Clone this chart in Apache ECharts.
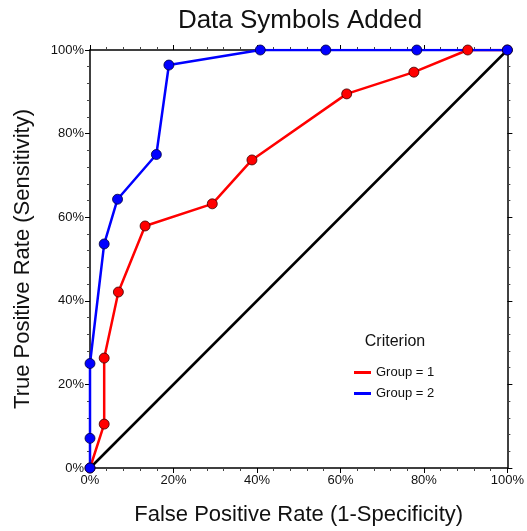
<!DOCTYPE html>
<html>
<head>
<meta charset="utf-8">
<script src="https://cdn.jsdelivr.net/npm/echarts@6/dist/echarts.min.js"></script>
<style>
html,body{margin:0;padding:0;background:#fff;}
#chart{width:527px;height:531px;}
</style>
</head>
<body>
<div id="chart"></div>
<script>
// Group = 1 (red) ROC points: false positive rate, true positive rate
var group1FPR = [0, 0.034, 0.034, 0.068, 0.132, 0.293, 0.388, 0.615, 0.776, 0.905, 1];
var group1TPR = [0, 0.105, 0.263, 0.421, 0.579, 0.632, 0.737, 0.895, 0.947, 1, 1];
// Group = 2 (blue)
var group2FPR = [0, 0, 0, 0.034, 0.066, 0.159, 0.189, 0.408, 0.565, 0.783, 1];
var group2TPR = [0, 0.071, 0.25, 0.536, 0.643, 0.75, 0.964, 1, 1, 1, 1];
// reference diagonal
var diagX = [0, 1];
var diagY = [0, 1];
var tickValues = [0, 0.2, 0.4, 0.6, 0.8, 1];
var tickLabels = ['0%', '20%', '40%', '60%', '80%', '100%'];
var seriesNames = ['Group = 1', 'Group = 2'];

function pairs(xs, ys) { return xs.map(function (x, i) { return [x, ys[i]]; }); }
function fmt(v) {
  for (var i = 0; i < tickValues.length; i++) if (Math.abs(tickValues[i] - v) < 1e-6) return tickLabels[i];
  return '';
}

var FONT = '"Liberation Sans", Arial, sans-serif';
var chart = echarts.init(document.getElementById('chart'));

function axisBase(show, pos) {
  return {
    type: 'value', min: 0, max: 1, interval: 0.2, position: pos,
    axisLine: { show: true, onZero: false, lineStyle: { color: '#000', width: 1.5 } },
    axisTick: { show: true, inside: false, length: 5, lineStyle: { color: '#000', width: 1 } },
    minorTick: { show: true, splitNumber: 5, length: 3, lineStyle: { color: '#444', width: 1 } },
    splitLine: { show: false },
    axisLabel: { show: show, formatter: fmt, fontSize: 13, color: '#111', fontFamily: FONT, margin: 6 }
  };
}

var xb = axisBase(true, 'bottom');
xb.name = 'False Positive Rate (1-Specificity)';
xb.nameLocation = 'middle';
xb.nameGap = 36;
xb.nameTextStyle = { fontSize: 22, color: '#111', fontFamily: FONT };
var xt = axisBase(false, 'top');
var yl = axisBase(true, 'left');
yl.name = 'True Positive Rate (Sensitivity)';
yl.nameLocation = 'middle';
yl.nameGap = 56;
yl.nameTextStyle = { fontSize: 22, color: '#111', fontFamily: FONT };
var yr = axisBase(false, 'right');

var option = {
  animation: false,
  backgroundColor: '#fff',
  grid: { left: 90, right: 18, top: 50, bottom: 62, containLabel: false },
  xAxis: [xb, xt],
  yAxis: [yl, yr],
  legend: {
    data: seriesNames,
    orient: 'vertical',
    left: 349, top: 361,
    icon: 'rect',
    itemWidth: 17, itemHeight: 3, itemGap: 8,
    textStyle: { fontSize: 13, color: '#111', fontFamily: FONT }
  },
  graphic: [
    { type: 'text', x: 300, y: 21, style: { text: 'Data Symbols Added', font: '26px ' + FONT, fill: '#111', textAlign: 'center', textVerticalAlign: 'middle' } },
    { type: 'text', x: 395, y: 342, style: { text: 'Criterion', font: '16px ' + FONT, fill: '#111', textAlign: 'center', textVerticalAlign: 'middle' } }
  ],
  series: [
    { type: 'line', name: 'diag', data: pairs(diagX, diagY), symbol: 'none', lineStyle: { color: '#000', width: 2.5 }, z: 1, silent: true },
    { type: 'line', name: seriesNames[0], data: pairs(group1FPR, group1TPR), symbol: 'none', color: '#ff0000', lineStyle: { color: '#ff0000', width: 2.5 }, z: 2 },
    { type: 'line', name: seriesNames[1], data: pairs(group2FPR, group2TPR), symbol: 'none', color: '#0000ff', lineStyle: { color: '#0000ff', width: 2.5 }, z: 3 },
    { type: 'scatter', name: 'g1pts', data: pairs(group1FPR, group1TPR), symbol: 'circle', symbolSize: 10, itemStyle: { color: '#ff0000', borderColor: '#3a0000', borderWidth: 0.8, opacity: 1 }, z: 4 },
    { type: 'scatter', name: 'g2pts', data: pairs(group2FPR, group2TPR), symbol: 'circle', symbolSize: 10, itemStyle: { color: '#0000ff', borderColor: '#00003a', borderWidth: 0.8, opacity: 1 }, z: 5 }
  ]
};
chart.setOption(option);
</script>
</body>
</html>
